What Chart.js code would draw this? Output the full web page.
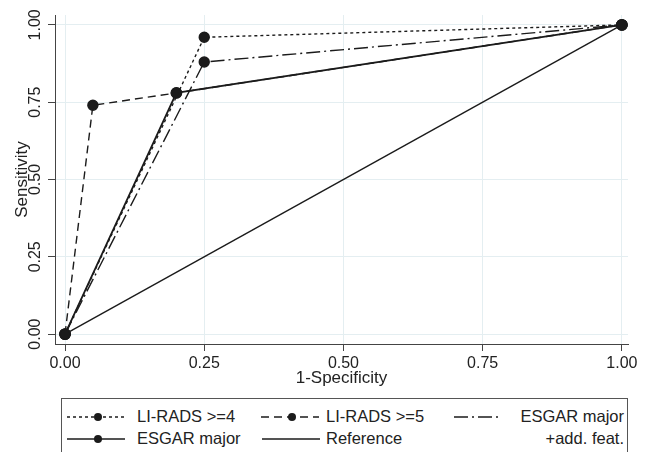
<!DOCTYPE html>
<html>
<head>
<meta charset="utf-8">
<script src="https://cdn.jsdelivr.net/npm/chart.js@4"></script>
<style>
  body { margin: 0; background: #fff; font-family: "Liberation Sans", Arial, sans-serif; }
  #wrap { position: relative; width: 648px; height: 452px; overflow: hidden; }
  #chart { position: absolute; left: 0; top: 0; }
  #legend { position: absolute; left: 61px; top: 398px; width: 567px; height: 58px; border: 1px solid #555; box-sizing: border-box; color: #222; font-size: 16.5px; }
  .item { position: absolute; height: 20px; line-height: 20px; white-space: nowrap; }
</style>
</head>
<body>
<div id="wrap">
  <canvas id="chart" width="648" height="398"></canvas>
  <div id="legend"></div>
</div>
<script>
// ROC points, x = 1-specificity, y = sensitivity
const seriesNames = ['LI-RADS >=4', 'LI-RADS >=5', 'ESGAR major +add. feat.', 'ESGAR major', 'Reference'];
const lirads4X = [0, 0.25, 1];
const lirads4Y = [0, 0.96, 1];
const lirads5X = [0, 0.05, 0.20, 1];
const lirads5Y = [0, 0.74, 0.78, 1];
const esgarAddX = [0, 0.25, 1];
const esgarAddY = [0, 0.88, 1];
const esgarX = [0, 0.20, 1];
const esgarY = [0, 0.78, 1];
const refX = [0, 1];
const refY = [0, 1];
const tickValues = [0, 0.25, 0.5, 0.75, 1];

const pts = (xs, ys) => xs.map((x, i) => ({ x: x, y: ys[i] }));
const ink = '#1b1b1b';
const font = 'Liberation Sans';

const styles = [
    { dash: [3, 3], width: 1.4, radius: 5 },
    { dash: [8, 5], width: 1.4, radius: 5 },
    { dash: [14, 4, 2, 4], width: 1.4, radius: 5 },
    { dash: [], width: 1.8, radius: 5 },
    { dash: [], width: 1.4, radius: 0 }
];
const data = [
    pts(lirads4X, lirads4Y),
    pts(lirads5X, lirads5Y),
    pts(esgarAddX, esgarAddY),
    pts(esgarX, esgarY),
    pts(refX, refY)
];

const datasets = data.map((d, i) => ({
    label: seriesNames[i],
    data: d,
    showLine: true,
    borderColor: ink,
    backgroundColor: ink,
    borderWidth: styles[i].width,
    borderDash: styles[i].dash,
    pointRadius: styles[i].radius,
    pointBackgroundColor: ink,
    pointBorderColor: ink,
    tension: 0
}));

new Chart(document.getElementById('chart').getContext('2d'), {
    type: 'scatter',
    data: { datasets: datasets },
    options: {
        responsive: false,
        animation: false,
        layout: { padding: { top: 15, right: 20, left: 0, bottom: 0 } },
        plugins: { legend: { display: false }, tooltip: { enabled: false } },
        scales: {
            x: {
                type: 'linear',
                min: -0.018,
                max: 1.011,
                afterBuildTicks: (s) => { s.ticks = tickValues.map(v => ({ value: v })); },
                afterFit: (s) => { s.height = 54; },
                grid: { color: '#e4eef1', tickColor: '#444', tickLength: 7, lineWidth: 1 },
                border: { color: '#444', width: 1 },
                ticks: {
                    color: '#222', font: { family: font, size: 16 }, padding: 3,
                    maxRotation: 0,
                    callback: (v) => v.toFixed(2)
                },
                title: { display: true, text: '1-Specificity', color: '#222', font: { family: font, size: 17 }, padding: { top: 0, bottom: 9 } }
            },
            y: {
                type: 'linear',
                min: -0.032,
                max: 1.032,
                afterBuildTicks: (s) => { s.ticks = tickValues.map(v => ({ value: v })); },
                afterFit: (s) => { s.width = 55; },
                grid: { color: '#e4eef1', tickColor: '#444', tickLength: 7, lineWidth: 1 },
                border: { color: '#444', width: 1 },
                ticks: {
                    color: '#222', font: { family: font, size: 16 }, padding: -3.5,
                    minRotation: 90, maxRotation: 90, crossAlign: 'center',
                    callback: (v) => v.toFixed(2)
                },
                title: { display: true, text: 'Sensitivity', color: '#222', font: { family: font, size: 17 }, padding: { top: 12, bottom: 0 } }
            }
        }
    }
});

// legend: line samples + labels, positions relative to the box
function sample(i, marker) {
    const st = styles[i];
    const dash = st.dash.length ? 'stroke-dasharray="' + st.dash.join(',') + '"' : '';
    let s = '<svg width="58" height="20" style="position:absolute;left:0;top:0"><line x1="0" y1="10" x2="58" y2="10" stroke="' + ink + '" stroke-width="1.3" ' + dash + '/>';
    if (marker) s += '<circle cx="31" cy="10" r="4" fill="' + ink + '"/>';
    return s + '</svg>';
}
const legendSamples = [
    { i: 0, left: 5, top: 8, marker: true },
    { i: 1, left: 199, top: 8, marker: true },
    { i: 2, left: 392, top: 8, marker: false, w: 48 },
    { i: 3, left: 5, top: 30, marker: true },
    { i: 4, left: 200, top: 30, marker: false }
];
const legendTexts = [
    { text: seriesNames[0], left: 75, top: 7 },
    { text: seriesNames[1], left: 264, top: 7 },
    { text: seriesNames[3], left: 75, top: 29 },
    { text: seriesNames[4], left: 264, top: 29 },
    { text: 'ESGAR major', right: 3, top: 7 },
    { text: '+add. feat.', right: 3, top: 29 }
];
const leg = document.getElementById('legend');
legendSamples.forEach(it => {
    const d = document.createElement('div');
    d.className = 'item';
    d.style.left = it.left + 'px';
    d.style.top = it.top + 'px';
    d.style.width = (it.w || 58) + 'px';
    d.style.overflow = 'hidden';
    d.innerHTML = sample(it.i, it.marker);
    leg.appendChild(d);
});
legendTexts.forEach(it => {
    const d = document.createElement('div');
    d.className = 'item';
    if (it.right !== undefined) d.style.right = it.right + 'px';
    else d.style.left = it.left + 'px';
    d.style.top = it.top + 'px';
    d.textContent = it.text;
    leg.appendChild(d);
});
</script>
</body>
</html>
